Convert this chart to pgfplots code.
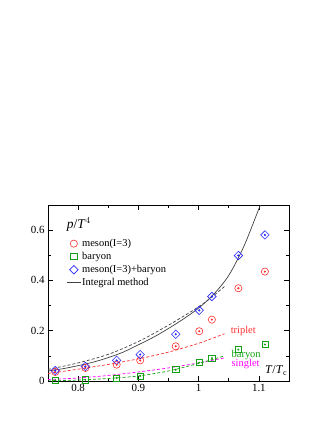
\documentclass[border=0pt]{standalone}
\usepackage{fontspec}
\setmainfont{Liberation Serif}
\usepackage{pgfplots}
\usepackage{pgfplotstable}
\pgfplotsset{compat=1.18}
\definecolor{cred}{RGB}{255,45,45}
\definecolor{cgreen}{RGB}{20,160,20}
\definecolor{cblue}{RGB}{40,40,255}
\definecolor{cmag}{RGB}{255,0,255}
\pgfplotstableread{
T      meson  baryon  sum
0.762  0.036  0.003   0.042
0.812  0.052  0.005   0.058
0.864  0.065  0.012   0.082
0.903  0.082  0.020   0.105
0.962  0.138  0.045   0.186
1.001  0.198  0.073   0.281
1.022  0.244  0.091   0.336
1.066  0.369  0.125   0.499
1.110  0.435  0.145   0.581
}\points
\begin{document}
\begin{tikzpicture}
\path (0,0) rectangle (333bp,430bp);
\begin{axis}[
  at={(48bp,49bp)}, anchor=south west, scale only axis,
  width=241bp, height=176bp,
  xmin=0.75, xmax=1.15, ymin=0, ymax=0.7,
  xtick={0.8,0.9,1,1.1}, xticklabels={0.8,0.9,1,1.1},
  ytick={0,0.2,0.4,0.6}, yticklabels={0,0.2,0.4,0.6},
  minor x tick num=1, minor y tick num=1,
  tick align=inside, major tick length=5bp, minor tick length=3bp,
  tick style={black, line width=0.6pt},
  axis line style={line width=0.7pt},
  ticklabel style={font=\fontsize{11}{13}\selectfont},
  legend image code/.code={\draw[mark repeat=2,mark phase=2,#1] plot coordinates {(0bp,0bp)(6.5bp,0bp)(13bp,0bp)};},
  legend style={draw=none, fill=none, at={(0.078,0.815)}, anchor=north west,
    inner sep=0pt, row sep=1.3bp, font=\fontsize{10.5}{12}\selectfont,
    nodes={inner sep=1.5bp}},
  legend cell align=left,
  every axis plot/.append style={line width=0.7pt},
]
\addplot[only marks, cred, mark=o, mark size=3.6bp, mark options={line width=0.6pt}] table[x=T,y=meson] {\points};
\addlegendentry{meson(I=3)}
\addplot[only marks, cgreen, mark=square, mark size=3.1bp, mark options={line width=0.6pt}] table[x=T,y=baryon] {\points};
\addlegendentry{baryon}
\addplot[only marks, cblue, mark=square, mark size=3.0bp, mark options={rotate=45,line width=0.6pt}] table[x=T,y=sum] {\points};
\addlegendentry{meson(I=3)+baryon}
\addplot[black!75, line width=0.7pt, smooth, no marks] coordinates {
(0.75,0.040)(0.775,0.049)(0.8,0.061)(0.825,0.075)(0.85,0.093)(0.875,0.115)(0.9,0.144)(0.925,0.174)(0.95,0.209)(0.975,0.247)(1.0,0.290)(1.025,0.345)(1.05,0.420)(1.075,0.535)(1.1,0.685)(1.103,0.700)};
\addlegendentry{Integral method}
\addplot[forget plot, only marks, cred, mark=*, mark size=0.7bp] table[x=T,y=meson] {\points};
\addplot[forget plot, only marks, cgreen, mark=*, mark size=0.6bp] table[x=T,y=baryon] {\points};
\addplot[forget plot, only marks, cblue, mark=*, mark size=0.7bp] table[x=T,y=sum] {\points};
% dashed curves
\addplot[forget plot, black!75, dash pattern=on 3pt off 2pt, smooth, no marks] coordinates {
(0.75,0.046)(0.8,0.072)(0.85,0.106)(0.9,0.157)(0.95,0.222)(1.0,0.295)(1.02,0.330)(1.043,0.376)};
\addplot[forget plot, cred, dash pattern=on 3pt off 2pt, smooth, no marks] coordinates {
(0.75,0.030)(0.8,0.047)(0.85,0.066)(0.9,0.088)(0.95,0.115)(1.0,0.150)(1.043,0.188)};
\addplot[forget plot, cmag, dash pattern=on 3pt off 2pt, smooth, no marks] coordinates {
(0.75,0.006)(0.8,0.012)(0.85,0.022)(0.9,0.036)(0.95,0.052)(1.0,0.072)(1.043,0.092)};
\addplot[forget plot, cgreen, dash pattern=on 3pt off 2pt, smooth, no marks] coordinates {
(0.75,0.000)(0.8,0.004)(0.85,0.010)(0.9,0.020)(0.95,0.040)(1.0,0.070)(1.043,0.100)};
\node[anchor=base west, inner sep=0pt, font=\fontsize{13.5}{15}\selectfont] at (axis cs:0.781,0.605) {\textit{p}/\textit{T}$^{4}$};
\node[anchor=base west, inner sep=0pt, font=\fontsize{12}{14}\selectfont] at (axis cs:1.110,0.029) {\textit{T}/\textit{T}$_{\mathrm{c}}$};
\node[anchor=base west, inner sep=0pt, cred, font=\fontsize{10.5}{12}\selectfont] at (axis cs:1.053,0.187) {triplet};
\node[anchor=base west, inner sep=0pt, cgreen, font=\fontsize{10.5}{12}\selectfont] at (axis cs:1.0545,0.095) {baryon};
\node[anchor=base west, inner sep=0pt, cmag, font=\fontsize{10.5}{12}\selectfont] at (axis cs:1.0545,0.058) {singlet};
\end{axis}
\end{tikzpicture}
\end{document}
